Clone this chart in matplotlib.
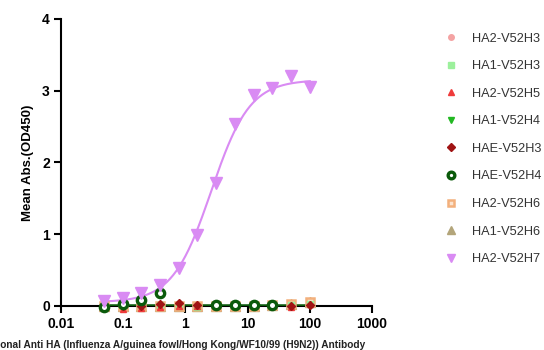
import numpy as np
import matplotlib
matplotlib.use("Agg")
import matplotlib.pyplot as plt

plt.rcParams['font.family'] = ['Liberation Sans', 'DejaVu Sans']

# dilution series (ug/mL), two-fold from 100
conc = [100, 50, 25, 12.5, 6.25, 3.125, 1.5625, 0.78125,
        0.390625, 0.1953125, 0.09765625, 0.048828125]

labels = ['HA2-V52H3', 'HA1-V52H3', 'HA2-V52H5', 'HA1-V52H4', 'HAE-V52H3',
          'HAE-V52H4', 'HA2-V52H6', 'HA1-V52H6', 'HA2-V52H7']

nan = float('nan')
ha2_h3 = [0.02, 0.01, 0.01, 0.01, 0.00, 0.00, 0.00, 0.00, 0.00, 0.00, 0.00, 0.00]
ha1_h3 = [0.03, 0.01, 0.00, 0.00, 0.00, 0.00, -0.01, 0.00, 0.01, 0.01, 0.01, 0.01]
ha2_h5 = [0.02, -0.01, 0.00, 0.00, 0.00, 0.00, 0.00, 0.00, -0.01, -0.03, -0.04, -0.01]
ha1_h4 = [0.02, 0.01, 0.00, 0.00, 0.00, 0.00, 0.00, 0.00, 0.00, 0.00, 0.00, 0.00]
hae_h3 = [0.01, 0.00, 0.00, 0.00, 0.00, 0.00, 0.01, 0.04, 0.03, 0.00, 0.00, 0.00]
hae_h4 = [nan, nan, 0.01, 0.01, 0.01, 0.01, nan, nan, 0.18, 0.08, 0.03, -0.01]
ha2_h6 = [0.05, 0.02, 0.01, 0.00, 0.00, 0.00, 0.00, 0.00, 0.00, 0.00, 0.00, 0.00]
ha1_h6 = [0.06, 0.03, 0.01, 0.00, 0.00, 0.00, 0.00, 0.00, 0.00, 0.00, 0.00, 0.00]
ha2_h7 = [3.05, 3.20, 3.04, 2.94, 2.54, 1.71, 0.99, 0.53, 0.29, 0.18, 0.11, 0.07]

series = [ha2_h3, ha1_h3, ha2_h5, ha1_h4, hae_h3, hae_h4, ha2_h6, ha1_h6, ha2_h7]

# 4PL fit parameters for HA2-V52H7 (bottom, top, EC50, hill)
fit_h7 = (0.05, 3.15, 2.6, 1.4)

STYLES = [
    dict(marker='o', color='#f4a3a3', mfc='#f4a3a3', ms=5, mew=1, z=4.0),
    dict(marker='s', color='#9cf09c', mfc='#9cf09c', ms=5, mew=1, z=4.4),
    dict(marker='^', color='#ef3b3b', mfc='#ef3b3b', ms=5, mew=1, z=4.5),
    dict(marker='v', color='#22b822', mfc='#22b822', ms=5, mew=1, z=4.1),
    dict(marker='D', color='#a01414', mfc='#a01414', ms=4.5, mew=1, z=4.6),
    dict(marker='o', color='#0b5a0b', mfc='white', ms=6, mew=2.4, z=4.7),
    dict(marker='s', color='#f3b07c', mfc='#fbe3cf', ms=6, mew=1.8, z=4.3),
    dict(marker='^', color='#b3a57a', mfc='#b3a57a', ms=7, mew=1, z=4.2),
    dict(marker='v', color='#d98bf3', mfc='#d98bf3', ms=8, mew=1, z=5.0),
]

fig = plt.figure(figsize=(5.44, 3.5), dpi=100)
ax = fig.add_axes([0.112, 0.126, 0.572, 0.82])

x = np.array(conc)
handles = []
for vals, lab, st in zip(series, labels, STYLES):
    y = np.array(vals)
    if lab == 'HA2-V52H7':
        b, t, ec, h = fit_h7
        xf = np.logspace(np.log10(x.min()), np.log10(x.max()), 200)
        yf = b + (t - b) / (1 + (ec / xf) ** h)
        ax.plot(xf, yf, color=st['color'], lw=1.5, zorder=3)
    else:
        ax.plot([x.min(), x.max()], [np.nanmedian(y)] * 2, color=st['color'],
                lw=1.8, zorder=st['z'] - 2)
    hnd, = ax.plot(x, y, ls='none', marker=st['marker'], color=st['color'],
                   mfc=st['mfc'], mec=st['color'], ms=st['ms'], mew=st['mew'],
                   label=lab, zorder=st['z'], clip_on=False)
    handles.append(hnd)

ax.set_xscale('log')
ax.set_xlim(0.01, 1000)
ax.set_ylim(0, 4)
ax.set_xticks([0.01, 0.1, 1, 10, 100, 1000])
ax.set_xticklabels(['0.01', '0.1', '1', '10', '100', '1000'])
ax.set_yticks([0, 1, 2, 3, 4])
ax.minorticks_off()
for s in ['top', 'right']:
    ax.spines[s].set_visible(False)
for s in ['left', 'bottom']:
    ax.spines[s].set_linewidth(1.5)
ax.tick_params(width=1.5, length=5, labelsize=10, pad=3)
for lbl in ax.get_xticklabels() + ax.get_yticklabels():
    lbl.set_fontweight('bold')
ax.set_ylabel('Mean Abs.(OD450)', fontsize=9.5, fontweight='bold', labelpad=6)

fig.text(0.672, 1 - 340 / 350,
         'Monoclonal Anti HA (Influenza A/guinea fowl/Hong Kong/WF10/99 (H9N2)) Antibody',
         ha='right', va='top', fontsize=7.3, fontweight='bold', color='#222222')

fig.legend(handles=handles, labels=labels, loc='upper left',
           bbox_to_anchor=(0.797, 0.94), frameon=False, fontsize=9.2,
           handlelength=1.0, handletextpad=1.1, labelspacing=1.22,
           labelcolor='#333333', markerscale=0.8)

fig.savefig('out.png', dpi=100)
